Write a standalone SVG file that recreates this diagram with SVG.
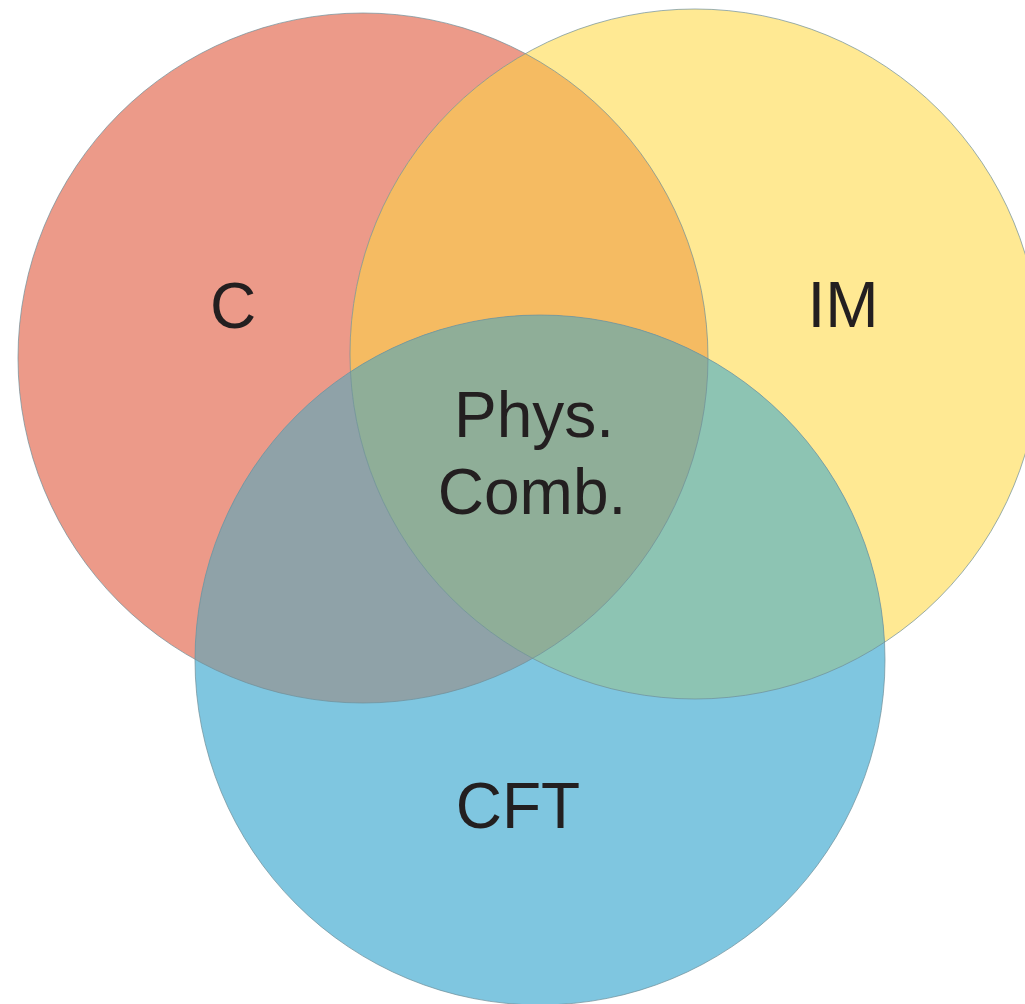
<svg xmlns="http://www.w3.org/2000/svg" width="1025" height="1004" viewBox="0 0 1025 1004">
<style>
.lbl{font-family:"Liberation Sans",Arial,sans-serif;font-size:64px;fill:#231f20;text-anchor:middle}
.edge{fill:none;stroke:#6f8f98;stroke-width:1;stroke-opacity:0.7}
</style>
<defs>
<clipPath id="cR"><circle cx="363" cy="358" r="345"/></clipPath>
<clipPath id="cY"><circle cx="695" cy="354" r="345"/></clipPath>
<clipPath id="cB"><circle cx="540" cy="660" r="345"/></clipPath>
</defs>
<rect width="1025" height="1004" fill="#ffffff"/>
<g id="node-C"><circle cx="363" cy="358" r="345" fill="#EC9A89"/></g>
<g id="node-IM"><circle cx="695" cy="354" r="345" fill="#FFE993"/></g>
<g id="node-CFT"><circle cx="540" cy="660" r="345" fill="#7FC6E0"/></g>
<g id="overlaps">
<g clip-path="url(#cR)"><circle cx="695" cy="354" r="345" fill="#F5BB62"/></g>
<g clip-path="url(#cR)"><circle cx="540" cy="660" r="345" fill="#8FA2A8"/></g>
<g clip-path="url(#cY)"><circle cx="540" cy="660" r="345" fill="#8DC4B3"/></g>
<g clip-path="url(#cR)"><g clip-path="url(#cY)"><circle cx="540" cy="660" r="345" fill="#8FAE98"/></g></g>
</g>
<g id="outlines">
<circle class="edge" cx="363" cy="358" r="345"/>
<circle class="edge" cx="695" cy="354" r="345"/>
<circle class="edge" cx="540" cy="660" r="345"/>
</g>
<g id="labels">
<text class="lbl" x="233" y="328">C</text>
<text class="lbl" x="843" y="327">IM</text>
<text class="lbl" x="534" y="437">Phys.</text>
<text class="lbl" x="532" y="514">Comb.</text>
<text class="lbl" x="518" y="828">CFT</text>
</g>
</svg>
